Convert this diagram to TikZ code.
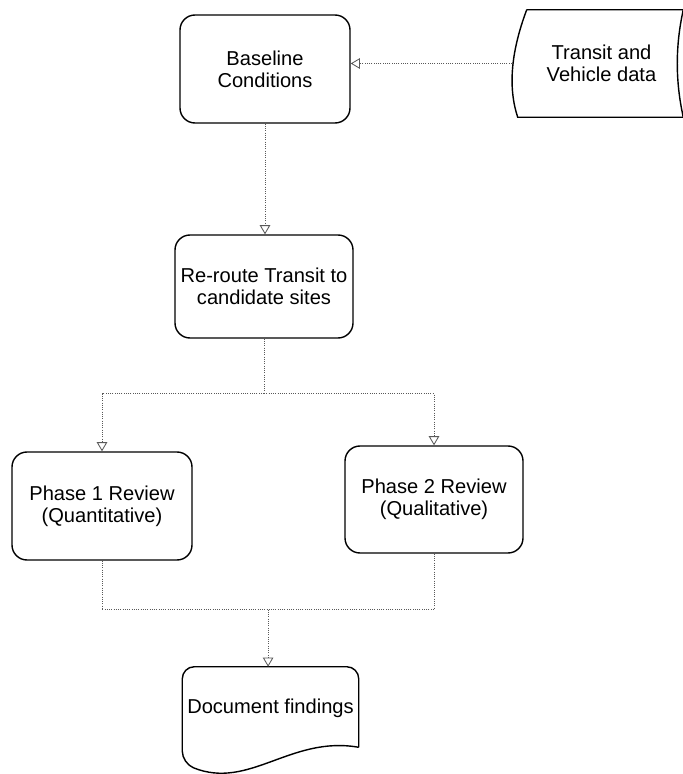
\documentclass[tikz,border=0pt]{standalone}
\usepackage{fontspec}
\setmainfont{Liberation Sans}
\usepackage{tikz}
\usetikzlibrary{arrows.meta}

\begin{document}
\begin{tikzpicture}[
    proc node/.style={rectangle,rounded corners=0.375cm,draw=black,line width=1pt,align=center,font=\fontsize{14.3}{15.8}\selectfont},
    shape node/.style={rectangle,draw=none,align=center,font=\fontsize{14.3}{15.8}\selectfont},
    flow line/.style={gray!70!black,line width=0.6pt,densely dotted,-{Triangle[open,length=6.5pt,width=7.5pt]}},
    join line/.style={gray!70!black,line width=0.6pt,densely dotted},
    ]
  \useasboundingbox (0,0) rectangle (17.05,-19.35);

  \node[proc node, minimum width=4.25cm, minimum height=2.7cm] (base) at (6.625,-1.725) {Baseline\\Conditions};
  \node[proc node, minimum width=4.45cm, minimum height=2.575cm] (reroute) at (6.6,-7.1625) {Re-route Transit to\\candidate sites};
  \node[proc node, minimum width=4.5cm, minimum height=2.7cm] (phase1) at (2.55,-12.65) {Phase 1 Review\\(Quantitative)};
  \node[proc node, minimum width=4.45cm, minimum height=2.675cm] (phase2) at (10.85,-12.4875) {Phase 2 Review\\(Qualitative)};
  \node[shape node, minimum width=4.075cm, minimum height=2.675cm] (data) at (15.0375,-1.5875) {Transit and\\Vehicle data};
  \node[shape node, minimum width=4.375cm, minimum height=2.075cm] (doc) at (6.7625,-17.7125) {Document findings};

  % stored data outline
  \draw[line width=1pt] ([xshift=0.175cm]data.north west) -- (data.north east)
    .. controls +(-0.2,-0.9) and +(-0.2,0.9) .. (data.south east)
    -- ([xshift=-0.05cm]data.south west)
    .. controls +(-0.3,0.9) and +(-0.3,-0.8) .. ([xshift=0.175cm]data.north west);

  % document outline
  \draw[line width=1pt, rounded corners=0.3cm] ([yshift=0.075cm]doc.south east) -- (doc.north east)
    -- (doc.north west) -- ([yshift=-0.325cm]doc.south west) [sharp corners]
    .. controls +(1.675,-0.675) and +(-1.7,0.3) .. ([yshift=0.075cm]doc.south east);

  \path (reroute.south) ++(0,-1.375) coordinate (split);
  \path (doc.north) ++(-0.06,1.425) coordinate (join);

  \draw[flow line] ([xshift=-0.2cm]data.west) -- (data.west -| base.east);
  \draw[flow line] (base.south) -- (base.south |- reroute.north);
  \draw[join line] (reroute.south) -- (split);
  \draw[flow line] (split) -| (phase1.north);
  \draw[flow line] (split) -| (phase2.north);
  \draw[join line] (phase1.south) |- (join);
  \draw[join line] (phase2.south) |- (join);
  \draw[flow line] (join) -- (join |- doc.north);
\end{tikzpicture}
\end{document}
